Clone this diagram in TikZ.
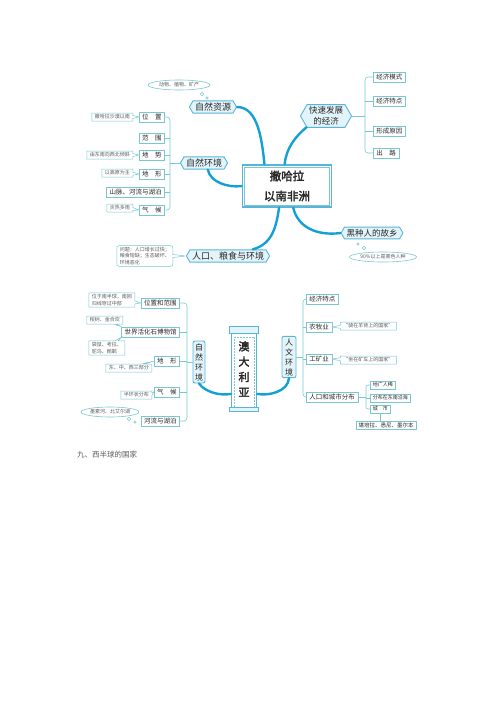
\documentclass[tikz,border=0pt]{standalone}
\usepackage{fontspec}
\newfontfamily\cjk{Noto Sans CJK SC}
\newfontfamily\cjkb[FakeBold=2.5]{Noto Sans CJK SC}
\usetikzlibrary{shapes.symbols,shapes.callouts,shapes.geometric,calc}
\definecolor{branchc}{RGB}{20,160,215}
\definecolor{edgec}{RGB}{120,200,210}
\definecolor{hexfill}{RGB}{226,244,250}
\definecolor{hexdraw}{RGB}{90,180,215}
\definecolor{txtc}{RGB}{40,40,40}
\definecolor{notec}{RGB}{90,90,90}
\begin{document}
\begin{tikzpicture}[x=1pt,y=-1pt,
 lst/.style={draw=edgec, fill=white, line width=0.6pt, font=\cjk\fontsize{6.5}{7}\selectfont, text=txtc, inner xsep=3pt, inner ysep=0pt, minimum height=10pt},
 sub/.style={lst, font=\cjk\fontsize{5}{6}\selectfont, minimum height=8pt, inner xsep=2.5pt},
 nt/.style={rectangle callout, draw=edgec, fill=white, line width=0.5pt, font=\cjk\fontsize{5}{6.5}\selectfont, text=notec, inner xsep=3pt, inner ysep=1.5pt, minimum height=8pt, callout pointer width=3pt},
 hx/.style={signal, signal to=west and east, signal pointer angle=120, draw=hexdraw, fill=hexfill, line width=0.9pt, font=\cjk\fontsize{9}{10}\selectfont, text=txtc, inner xsep=2pt, inner ysep=2pt},
 vt/.style={rounded corners=2pt, draw=hexdraw, fill=hexfill, line width=0.9pt, font=\cjk\fontsize{8}{10}\selectfont, text=txtc, inner xsep=1.5pt, inner ysep=2pt, align=center},
 bk/.style={draw=edgec, line width=0.6pt},
 br/.style={draw=branchc, line width=2.4pt, line cap=round},
 cl/.style={ellipse, draw=edgec, fill=white, line width=0.6pt, font=\cjk\fontsize{5}{6}\selectfont, text=notec, inner sep=0.5pt},
 bub/.style={circle, draw=edgec, fill=white, line width=0.5pt, inner sep=0pt},
]
\useasboundingbox (0,0) rectangle (500,707);

% ---------------- Top: Sub-Saharan Africa ----------------
\node[draw=hexdraw, line width=1.6pt, fill=white, minimum width=89pt, minimum height=42pt, align=center, font=\cjkb\fontsize{11.5}{20}\selectfont, text=txtc] (c1) at (287,186) {撒哈拉\\以南非洲};
\draw[edgec, line width=0.6pt] ($(c1.south west)+(3,-3)$) rectangle ($(c1.north east)+(-3,3)$);

\node[hx] (nr) at (213,107) {自然资源};
\node[cl, minimum width=62pt, minimum height=10pt] (nrc) at (179,85) {动物、植物、矿产};
\node[bub, minimum size=3.5pt] (nrb1) at (202,94) {};
\node[bub, minimum size=2.5pt] (nrb2) at (207,98) {};

\node[hx, align=center, font=\cjk\fontsize{8.5}{11}\selectfont] (econ) at (326,116) {快速发展\\的经济};
\node[lst, anchor=west] (e1) at (373,77) {经济模式};
\node[lst, anchor=west] (e2) at (373,101) {经济特点};
\node[lst, anchor=west] (e3) at (373,131) {形成原因};
\node[lst, anchor=west] (e4) at (373,153) {出　路};
\coordinate (eb) at (365,116);
\draw[bk, rounded corners=3pt] (e1.west) -| (eb) |- (e4.west);
\draw[bk] (e2.west) -- (e2.west -| eb);
\draw[bk] (e3.west) -- (e3.west -| eb);
\draw[bk] (econ.east) -- (eb);

\node[hx] (ne) at (204,163) {自然环境};
\node[lst, anchor=east] (n1) at (165,117) {位　置};
\node[lst, anchor=east] (n2) at (165,138) {范　围};
\node[lst, anchor=east] (n3) at (165,155) {地　势};
\node[lst, anchor=east] (n4) at (165,174) {地　形};
\node[lst, anchor=east] (n5) at (165,192) {山脉、河流与湖泊};
\node[lst, anchor=east] (n6) at (165,210) {气　候};
\coordinate (nb) at (170,163);
\draw[bk, rounded corners=3pt] (n1.east) -| (nb) |- (n6.east);
\foreach \k in {n2,n3,n4,n5} \draw[bk] (\k.east) -- (\k.east -| nb);
\draw[bk] (ne.west) -- (nb);

\node[nt, anchor=east, callout absolute pointer={(n1.west)}] (t1) at (133,117) {撒哈拉沙漠以南};
\node[nt, anchor=east, callout absolute pointer={(n3.west)}] (t3) at (133,155) {由东南向西北倾斜};
\node[nt, anchor=east, callout absolute pointer={(n4.west)}] (t4) at (133,173) {以高原为主};
\node[nt, anchor=east, callout absolute pointer={(n6.west)}] (t6) at (133,208) {炎热多雨};

\node[hx] (pop) at (228,256) {人口、粮食与环境};
\node[nt, anchor=east, align=left, rounded corners=2pt, callout absolute pointer={(pop.west)}] (t7) at (173,256) {问题：人口增长过快；\\粮食短缺；生态破坏、\\环境恶化};

\node[hx, font=\cjk\fontsize{8.5}{10}\selectfont] (blk) at (372,233) {黑种人的故乡};
\node[cl, minimum width=67pt, minimum height=10pt] (blkc) at (383,257) {90\%以上是黑色人种};
\node[bub, minimum size=2.5pt] (bb1) at (358,244) {};
\node[bub, minimum size=3.5pt] (bb2) at (364,248) {};

\draw[br] (c1.136) .. controls (262,140) and (258,107) .. (nr.east);
\draw[br] (c1.96) .. controls (286,148) and (296,136) .. (econ.210);
\draw[br] (c1.west) .. controls (228,188) and (210,182) .. (ne.300);
\draw[br] (c1.250) .. controls (276,228) and (272,244) .. (pop.15);
\draw[br] (c1.286) .. controls (298,228) and (318,236) .. (blk.west);

% ---------------- Bottom: Australia ----------------
\node[draw=hexdraw, line width=1.5pt, fill=white, minimum width=25pt, minimum height=82pt, align=center, font=\cjkb\fontsize{11}{15.3}\selectfont, text=txtc, inner sep=0pt] (aus) at (244,369) {澳\\大\\利\\亚};
\draw[edgec, densely dotted, line width=0.5pt] ($(aus.south west)+(3.5,-4)$) rectangle ($(aus.north east)+(-3.5,10)$);
\draw[hexdraw, fill=hexfill, line width=0.6pt] ($(aus.north west)+(-1.5,-1)$) rectangle ($(aus.north east)+(1.5,6)$);
\draw[hexdraw, fill=hexfill, line width=0.6pt] ($(aus.south west)+(-1.5,1)$) rectangle ($(aus.south east)+(1.5,-3)$);

\node[vt, minimum height=42pt, minimum width=12pt] (nat2) at (199,362) {自\\然\\环\\境};
\node[vt, minimum height=41pt, minimum width=14pt] (hum) at (289,357) {人\\文\\环\\境};

\draw[br] (aus.242) .. controls (220,396) and (205,392) .. (nat2.south);
\draw[br] (aus.298) .. controls (268,396) and (288,392) .. (hum.south);

\node[lst, anchor=east] (a1) at (180,303) {位置和范围};
\node[lst, anchor=east] (a2) at (180,332) {世界活化石博物馆};
\node[lst, anchor=east] (a3) at (180,361) {地　形};
\node[lst, anchor=east] (a4) at (180,392) {气　候};
\node[lst, anchor=east] (a5) at (180,421) {河流与湖泊};
\coordinate (ab) at (187,362);
\draw[bk, rounded corners=3pt] (a1.east) -| (ab) |- (a5.east);
\foreach \k in {a2,a3,a4} \draw[bk] (\k.east) -- (\k.east -| ab);
\draw[bk] (nat2.west) -- (ab);

\node[nt, anchor=east, align=left, callout absolute pointer={(a1.west)}] (u1) at (135,300) {位于南半球，南回\\归线穿过中部};
\node[nt, anchor=east, callout absolute pointer={(a2.north west)}] (u2) at (123,320) {桉树、金合欢};
\node[nt, anchor=east, align=left, callout absolute pointer={(a2.south west)}] (u3) at (125,348) {袋鼠、考拉、\\鸵鸟、鸸鹋};
\node[nt, anchor=east, callout absolute pointer={(a3.west)}] (u4) at (152,368) {东、中、西三部分};
\node[nt, anchor=east, callout absolute pointer={(a4.west)}] (u5) at (152,395) {半环状分布};
\node[cl, minimum width=54pt, minimum height=10pt] (u6) at (110,412) {墨累河、北艾尔湖};
\node[bub, minimum size=3.5pt] (ub1) at (129,419) {};
\node[bub, minimum size=2.5pt] (ub2) at (135,422) {};

\node[lst, anchor=west] (h1) at (306,299) {经济特点};
\node[lst, anchor=west] (h2) at (306,327) {农牧业};
\node[lst, anchor=west] (h3) at (306,359) {工矿业};
\node[lst, anchor=west] (h4) at (306,397) {人口和城市分布};
\coordinate (hb) at (303,357);
\draw[bk, rounded corners=3pt] (h1.west) -| (hb) |- (h4.west);
\foreach \k in {h2,h3} \draw[bk] (\k.west) -- (\k.west -| hb);
\draw[bk] (hum.east) -- (hb);

\node[nt, anchor=west, callout absolute pointer={(h2.east)}] (v2) at (340,326) {“骑在羊背上的国家”};
\node[nt, anchor=west, callout absolute pointer={(h3.east)}] (v3) at (340,360) {“坐在矿车上的国家”};

\node[sub, anchor=west] (s1) at (370,385) {地广人稀};
\node[sub, anchor=west] (s2) at (370,398) {分布在东南沿海};
\node[sub, anchor=west] (s3) at (370,409) {城　市};
\node[sub, font=\cjk\fontsize{5.5}{6}\selectfont] (s4) at (386,425) {堪培拉、悉尼、墨尔本};
\coordinate (sb) at (366,397);
\draw[bk] (h4.east) -- (sb);
\draw[bk, rounded corners=2pt] (s1.west) -| (sb) |- (s3.west);
\draw[bk] (s2.west) -- (s2.west -| sb);
\draw[bk] (s3.south) -- (s3.south |- s4.north);

\node[anchor=west, font=\cjk\fontsize{7.5}{9}\selectfont, text=notec, inner sep=0pt] (title) at (77,455) {九、西半球的国家};
\end{tikzpicture}
\end{document}
